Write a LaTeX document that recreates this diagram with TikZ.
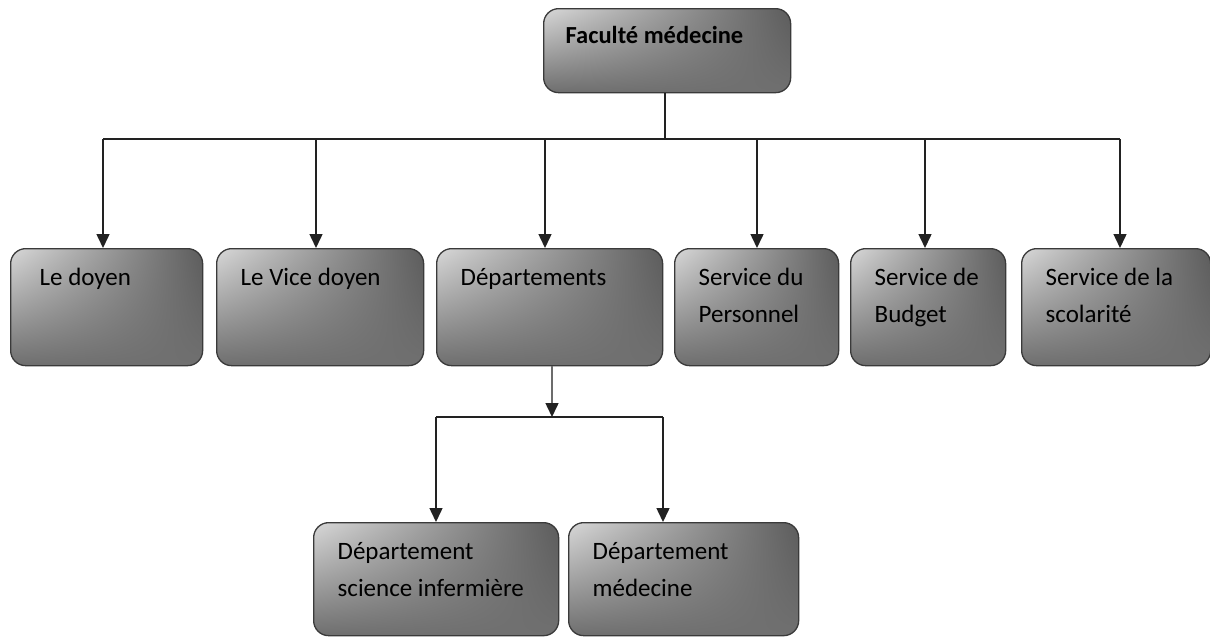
\documentclass[tikz,border=0pt]{standalone}
\usepackage{fontspec}
\setmainfont{Carlito}
\usetikzlibrary{arrows.meta,shadings}
\definecolor{lite}{HTML}{D8D8D8}
\definecolor{darkr}{HTML}{5C5C5C}
\definecolor{darkb}{HTML}{6E6E6E}
\definecolor{darkc}{HTML}{707070}
\definecolor{edge}{HTML}{3A3A3A}
\definecolor{wire}{HTML}{222222}
\newcommand{\lbl}[4][24pt]{\parbox[c][#3][t]{#2}{\raggedright\leftskip=#1\relax\fontsize{25}{37}\selectfont\rule{0pt}{37pt}#4}}
\tikzset{
  box/.style={draw=edge, line width=1.3pt, rounded corners=15pt, inner sep=0pt, anchor=north west,
    shade, upper left=lite, upper right=darkr, lower left=darkb, lower right=darkc},
  conn/.style={draw=wire, line width=1.5pt},
  arr/.style={conn, -{Triangle[width=13pt,length=14pt,color=wire]}}
}
\begin{document}
\begin{tikzpicture}[x=1pt,y=-1pt]
\useasboundingbox (0,0) rectangle (1210,637);
\node[box] (fac) at (543,8) {\parbox[c][84pt][t]{247pt}{\raggedright\leftskip=22pt\relax\fontsize{24.5}{37}\selectfont\bfseries\rule{0pt}{35pt}Faculté médecine}};
\node[box] (doyen) at (10,248) {\lbl[29pt]{192pt}{117pt}{Le doyen}};
\node[box] (vice) at (216,248) {\lbl{207pt}{117pt}{Le Vice doyen}};
\node[box] (dep) at (436,248) {\lbl{226pt}{117pt}{Départements}};
\node[box] (pers) at (674,248) {\lbl{164pt}{117pt}{Service du\\Personnel}};
\node[box] (budg) at (850,248) {\lbl{155pt}{117pt}{Service de\\Budget}};
\node[box] (scol) at (1021,248) {\lbl{189pt}{117pt}{Service de la\\scolarité}};
\node[box] (dsi) at (313,522) {\lbl{245pt}{113pt}{Département\\science infermière}};
\node[box] (dmed) at (568,522) {\lbl{230pt}{113pt}{Département\\médecine}};
\coordinate (j) at (665,139);
\coordinate (jl) at (103,139);
\coordinate (jr) at (1120,139);
\draw[conn] (fac.south -| j) -- (j);
\draw[conn] (jl) -- (jr);
\foreach \n/\x in {doyen/103,vice/316,dep/545,pers/757,budg/925,scol/1120}
  \draw[arr] (\x,139) -- (\n.north -| \x,0);
\coordinate (k) at (552,417);
\coordinate (kl) at (436,417);
\coordinate (kr) at (663,417);
\draw[arr, draw=gray!85!black] (dep.south -| k) -- (k);
\draw[conn] (kl) -- (kr);
\draw[arr] (kl) -- (kl |- dsi.north);
\draw[arr] (kr) -- (kr |- dmed.north);
\end{tikzpicture}
\end{document}
